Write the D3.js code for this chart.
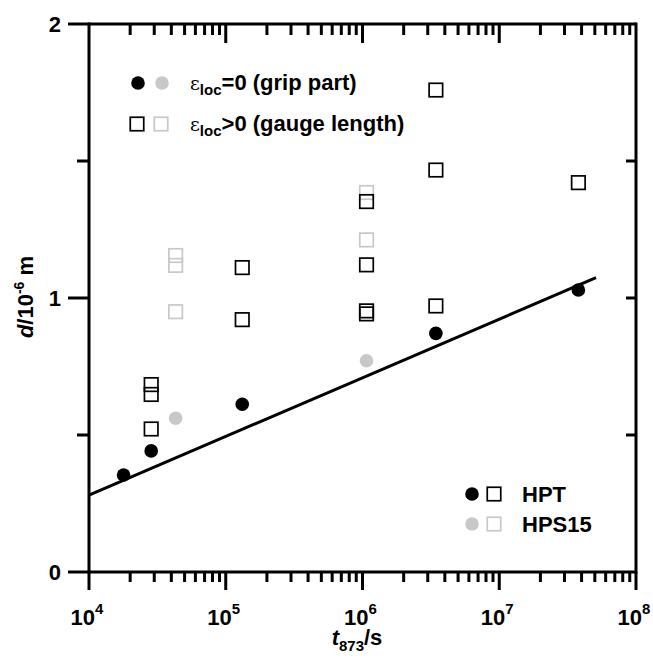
<!DOCTYPE html>
<html><head><meta charset="utf-8">
<script src="https://cdn.jsdelivr.net/npm/d3@7"></script>
<style>body{margin:0;background:#fff;} svg{display:block;} text{font-family:Arial,"Liberation Sans",sans-serif;font-weight:bold;}</style>
</head><body>
<svg id="c" width="653" height="659"></svg>
<script>
// ---- data ----
const hptCircleT = [1.79e4, 2.85e4, 1.32e5, 3.44e6, 3.79e7];
const hptCircleD = [0.354, 0.442, 0.612, 0.871, 1.029];
const hps15CircleT = [4.3e4, 1.07e6];
const hps15CircleD = [0.561, 0.771];
const hptSquareT = [2.85e4, 2.85e4, 2.85e4, 1.32e5, 1.32e5, 1.07e6, 1.07e6, 1.07e6, 1.07e6, 3.44e6, 3.44e6, 3.44e6, 3.79e7];
const hptSquareD = [0.684, 0.648, 0.522, 1.111, 0.921, 1.352, 1.121, 0.953, 0.942, 1.759, 1.467, 0.971, 1.421];
const hps15SquareT = [4.3e4, 4.3e4, 4.3e4, 1.07e6, 1.07e6];
const hps15SquareD = [1.155, 1.119, 0.950, 1.385, 1.212];
const fitT = [1e4, 5.1e7];
const fitD = [0.281, 1.074];
const xMajor = [1e4, 1e5, 1e6, 1e7, 1e8];
const xExp = ["4", "5", "6", "7", "8"];
const yMajor = [0, 1, 2];
const yMinor = [0.5, 1.5];

const BLACK = "#000", GRAY = "#c8c8c8";
const svg = d3.select("#c");
const L = 89, R = 636, T = 24, B = 572;
const x = d3.scaleLog().domain([1e4, 1e8]).range([L, R]);
const y = d3.scaleLinear().domain([0, 2]).range([B, T]);

const xMinor = [];
for (let e = 4; e < 8; e++) for (let m = 2; m <= 9; m++) xMinor.push(m * Math.pow(10, e));

// axes frame
const g = svg.append("g");
g.append("line").attr("x1", L).attr("x2", R).attr("y1", B).attr("y2", B).attr("stroke", BLACK).attr("stroke-width", 3);
g.append("line").attr("x1", L).attr("x2", R).attr("y1", T).attr("y2", T).attr("stroke", BLACK).attr("stroke-width", 3);
g.append("line").attr("x1", L).attr("x2", L).attr("y1", T - 1.5).attr("y2", B + 1.5).attr("stroke", BLACK).attr("stroke-width", 3);
g.append("line").attr("x1", R).attr("x2", R).attr("y1", T - 1.5).attr("y2", B + 1.5).attr("stroke", BLACK).attr("stroke-width", 3);

// bottom ticks (outward)
g.selectAll(".bmaj").data(xMajor).join("line").attr("x1", d => x(d)).attr("x2", d => x(d)).attr("y1", B).attr("y2", B + 18).attr("stroke", BLACK).attr("stroke-width", 3);
g.selectAll(".bmin").data(xMinor).join("line").attr("x1", d => x(d)).attr("x2", d => x(d)).attr("y1", B).attr("y2", B + 10).attr("stroke", BLACK).attr("stroke-width", 3);
// top ticks (inward)
g.selectAll(".tmaj").data(xMajor.slice(1, 4)).join("line").attr("x1", d => x(d)).attr("x2", d => x(d)).attr("y1", T).attr("y2", T + 19).attr("stroke", BLACK).attr("stroke-width", 3);
g.selectAll(".tmin").data(xMinor).join("line").attr("x1", d => x(d)).attr("x2", d => x(d)).attr("y1", T).attr("y2", T + 11).attr("stroke", BLACK).attr("stroke-width", 3);
// left ticks (outward)
g.selectAll(".lmaj").data(yMajor).join("line").attr("x1", L - 21).attr("x2", L).attr("y1", d => y(d)).attr("y2", d => y(d)).attr("stroke", BLACK).attr("stroke-width", 3);
g.selectAll(".lmin").data(yMinor).join("line").attr("x1", L - 12).attr("x2", L).attr("y1", d => y(d)).attr("y2", d => y(d)).attr("stroke", BLACK).attr("stroke-width", 3);
// right ticks (inward)
g.selectAll(".rt").data([0.5, 1, 1.5]).join("line").attr("x1", R - 10).attr("x2", R).attr("y1", d => y(d)).attr("y2", d => y(d)).attr("stroke", BLACK).attr("stroke-width", 3);

// x tick labels
xMajor.forEach((v, i) => {
  const t = svg.append("text").attr("x", x(v) - 2).attr("y", 625).attr("text-anchor", "middle").attr("font-size", 22);
  t.append("tspan").text("10");
  t.append("tspan").attr("dy", -11).attr("font-size", 15).text(xExp[i]);
});
// y tick labels
yMajor.forEach(v => {
  svg.append("text").attr("x", 61).attr("y", y(v) + 8).attr("text-anchor", "end").attr("font-size", 22).text(v);
});

// axis titles
const xt = svg.append("text").attr("x", 357).attr("y", 645).attr("text-anchor", "middle").attr("font-size", 22);
xt.append("tspan").attr("font-style", "italic").text("t");
xt.append("tspan").attr("dy", 6).attr("font-size", 15).text("873");
xt.append("tspan").attr("dy", -6).text("/s");

const yt = svg.append("text").attr("transform", "translate(33,297) rotate(-90)").attr("text-anchor", "middle").attr("font-size", 22);
yt.append("tspan").attr("font-style", "italic").text("d");
yt.append("tspan").text("/10");
yt.append("tspan").attr("dy", -9).attr("font-size", 14).text("-6");
yt.append("tspan").attr("dy", 9).text(" m");

// fit line
const line = d3.line().x(d => x(d[0])).y(d => y(d[1]));
svg.append("path").datum(fitT.map((t, i) => [t, fitD[i]])).attr("d", line).attr("fill", "none").attr("stroke", BLACK).attr("stroke-width", 3);

const SQ = 13.5;
function squares(T_, D_, col) {
  svg.append("g").selectAll("rect").data(T_.map((t, i) => [t, D_[i]])).join("rect")
    .attr("x", d => x(d[0]) - SQ / 2).attr("y", d => y(d[1]) - SQ / 2)
    .attr("width", SQ).attr("height", SQ).attr("fill", "none").attr("stroke", col).attr("stroke-width", 1.7);
}
function circles(T_, D_, col) {
  svg.append("g").selectAll("circle").data(T_.map((t, i) => [t, D_[i]])).join("circle")
    .attr("cx", d => x(d[0])).attr("cy", d => y(d[1])).attr("r", 6.8).attr("fill", col);
}
squares(hps15SquareT, hps15SquareD, GRAY);
squares(hptSquareT, hptSquareD, BLACK);
circles(hps15CircleT, hps15CircleD, GRAY);
circles(hptCircleT, hptCircleD, BLACK);

// legend (top-left)
function legSq(cx, cy, col) {
  svg.append("rect").attr("x", cx - SQ / 2).attr("y", cy - SQ / 2).attr("width", SQ).attr("height", SQ).attr("fill", "none").attr("stroke", col).attr("stroke-width", 1.7);
}
function legCirc(cx, cy, col) {
  svg.append("circle").attr("cx", cx).attr("cy", cy).attr("r", 6.8).attr("fill", col);
}
legCirc(138, 83, BLACK); legCirc(162, 83, GRAY);
legSq(137, 124, BLACK); legSq(161, 124, GRAY);
function epsText(yb, rest) {
  const t = svg.append("text").attr("x", 190).attr("y", yb).attr("font-size", 22);
  t.append("tspan").attr("font-weight", "normal").attr("font-family", "'DejaVu Serif',serif").attr("font-size", 19).text("ε");
  t.append("tspan").attr("dy", 5).attr("font-size", 15).text("loc");
  t.append("tspan").attr("dy", -5).text(rest);
}
epsText(90, "=0 (grip part)");
epsText(131, ">0 (gauge length)");

// legend (bottom-right)
legCirc(472, 494, BLACK); legSq(494, 494, BLACK);
legCirc(472, 524, GRAY); legSq(494, 524, GRAY);
svg.append("text").attr("x", 522).attr("y", 502).attr("font-size", 22).text("HPT");
svg.append("text").attr("x", 522).attr("y", 532).attr("font-size", 22).text("HPS15");
</script>
</body></html>
